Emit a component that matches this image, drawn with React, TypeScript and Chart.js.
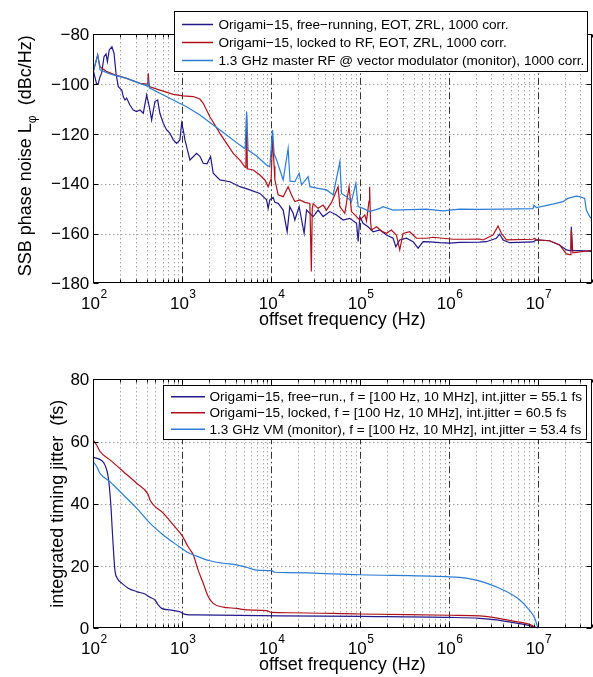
import React, { useEffect, useRef } from 'react';
import { Chart, registerables } from 'chart.js';

Chart.register(...registerables);

const FONT = "'Liberation Sans', Helvetica, Arial, sans-serif";

// ---------- Top chart: SSB phase noise ----------
const noiseFreeRunF = [100, 104, 109, 114, 119, 124, 132, 139, 144, 151, 162, 171, 180, 191, 209, 217, 227, 237, 258, 281, 307, 335, 365, 398, 426, 453, 493, 529, 561, 612, 668, 728, 793, 865, 942, 985, 1026, 1073, 1221, 1450, 1581, 1722, 1900, 2084, 2230, 2652, 3436, 4450, 5767, 7468, 8875, 9252, 9664, 10520, 11010, 11990, 13650, 15130, 16200, 17670, 18460, 20640, 23480, 24990, 29670, 33750, 38400, 45700, 54300, 64500, 76500, 91200, 95100, 99300, 108000, 123000, 140000, 167000, 198000, 235000, 252000, 279000, 332000, 394000, 449000, 511000, 607000, 787000, 1.02e6, 1.32e6, 2.21e6, 2.63e6, 3.41e6, 3.71e6, 4.05e6, 4.81e6, 8.79e6, 9.6e6, 1.35e7, 1.75e7, 2.09e7, 2.27e7, 2.35e7, 2.37e7, 2.44e7, 2.94e7, 4e7];
const noiseFreeRunL = [-94.5, -97, -100, -99.7, -97, -95.7, -89, -87.9, -91, -86.3, -85, -87.6, -95.7, -101, -102.4, -105, -106.4, -105.6, -108.4, -110.4, -111, -110.4, -111.7, -104.4, -109, -114.4, -107, -106.4, -111.7, -115.7, -118.4, -119.8, -122.4, -123.8, -122.4, -115.7, -118.4, -122.4, -130.5, -127.8, -129, -131.8, -132, -129.1, -135.8, -138.5, -139.2, -141.2, -142.5, -143.9, -146.5, -149.9, -146.5, -145.5, -147.5, -147.9, -150.6, -159.3, -149.2, -151.9, -154.6, -149.2, -159.9, -150.6, -153.2, -150.6, -153.2, -151.2, -152.6, -154.6, -153.9, -155.9, -163.2, -153.2, -155.9, -157.3, -159.3, -158.6, -160.6, -161.9, -165.3, -162.6, -161.9, -163.3, -165.9, -163.3, -163.4, -163.7, -163.9, -163.6, -163.5, -163.3, -161.9, -160.2, -162.6, -163.7, -163.4, -162.6, -162.9, -164.6, -166.6, -166.9, -166.9, -157.3, -166.9, -166.9, -167.2];

const noiseLockedF = [100, 112, 119, 142, 175, 237, 335, 410, 415, 426, 561, 793, 1026, 1330, 1581, 1722, 2047, 2652, 3743, 4450, 5058, 5200, 5293, 5400, 6283, 7468, 8498, 9252, 10000, 10370, 10800, 11010, 11990, 13650, 15520, 16930, 18460, 21000, 23920, 27240, 28300, 29000, 29670, 33750, 38400, 41900, 47700, 56600, 59200, 67300, 75200, 80000, 91200, 99300, 113000, 118000, 126000, 128000, 131000, 134000, 153000, 174000, 198000, 225000, 256000, 279000, 304000, 361000, 430000, 557000, 661000, 857000, 1.11e6, 1.57e6, 2.21e6, 2.41e6, 3.12e6, 3.56e6, 3.88e6, 4.42e6, 8.79e6, 9.18e6, 9.6e6, 1.35e7, 1.75e7, 2.09e7, 2.27e7, 2.35e7, 2.37e7, 2.47e7, 4e7];
const noiseLockedL = [-95, -88.3, -93, -95, -96.3, -97.7, -99.7, -100, -95.7, -101, -102.4, -104.1, -104.7, -105, -106, -107.7, -113.1, -119.8, -127.8, -130.5, -133.2, -133.5, -112.4, -134, -134.5, -136.5, -138.5, -141.2, -138, -121, -133, -138.5, -144.5, -145.2, -141.2, -144.5, -147.2, -146.5, -147.5, -147.9, -175.3, -150, -148, -149.9, -148.6, -150.6, -147.5, -141.2, -149.2, -151.9, -141.2, -151.2, -153.2, -154.6, -152.5, -155, -147, -141.2, -155, -158.6, -157.3, -159, -159.9, -158.6, -160.6, -166.6, -160, -159.3, -161.9, -161.9, -161.5, -161.9, -162.3, -162.3, -162.2, -162.6, -160.6, -157, -159.9, -162.6, -162.3, -161.9, -162.6, -162.9, -164.6, -168.2, -168.5, -168.5, -158.6, -167.8, -166.8];

const noiseMasterF = [100, 112, 119, 154, 237, 335, 410, 415, 426, 561, 793, 1119, 1581, 2230, 3155, 4450, 5100, 5293, 5500, 6855, 8875, 9664, 10370, 10800, 11510, 13650, 15520, 16300, 18460, 20640, 21940, 26070, 27240, 33750, 41900, 49800, 59200, 61800, 70300, 80000, 89500, 95100, 108000, 128000, 167000, 181000, 235000, 557000, 857000, 1.32e6, 2.21e6, 4.05e6, 8.79e6, 9.02e6, 9.6e6, 1.47e7, 1.91e7, 2.17e7, 2.7e7, 2.94e7, 3.35e7, 3.5e7, 3.81e7, 4e7];
const noiseMasterL = [-95, -88.3, -94.3, -95.9, -97.7, -99.7, -100.8, -99, -101.5, -103.7, -106.4, -109.1, -112.4, -116.4, -120.4, -124.5, -126, -111, -126.5, -128.9, -132.5, -133.2, -118.4, -128, -130.5, -138.5, -125.8, -139, -139.2, -135.8, -140.5, -137.2, -141.2, -141.9, -142.5, -144.5, -131.2, -143.9, -145.2, -147.2, -139.9, -149.2, -149.9, -151.2, -149.9, -149.2, -150.6, -150.2, -150.9, -150.2, -150.3, -150.2, -150, -148.6, -149.6, -148.2, -147.2, -145.9, -145, -145.2, -145.9, -150.6, -153.2, -153.9];

const noiseLabels = [
  'Origami\u221215, free\u2212running, EOT, ZRL, 1000 corr.',
  'Origami\u221215, locked to RF, EOT, ZRL, 1000 corr.',
  '1.3 GHz master RF @ vector modulator (monitor), 1000 corr.',
];
const noiseTicks = [-80, -100, -120, -140, -160, -180];

// ---------- Bottom chart: integrated timing jitter ----------
const jitFreeRunF = [100, 124, 135, 147, 157, 165, 175, 186, 209, 247, 307, 381, 433, 493, 537, 587, 728, 942, 1073, 1450, 12530, 99300, 1.02e6, 2.21e6, 3.41e6, 5.26e6, 7.4e6, 1e7];
const jitFreeRunV = [54.9, 53.9, 52.5, 48.7, 40.2, 29.5, 18.7, 16.1, 14.5, 12.9, 11.8, 11.0, 10.0, 9.1, 7.5, 6.4, 5.9, 5.3, 4.5, 4.3, 4.0, 3.8, 3.5, 3.2, 2.7, 1.8, 1.1, 0];

const jitLockedF = [100, 109, 119, 154, 217, 307, 415, 433, 612, 793, 985, 1165, 1330, 1510, 1722, 1960, 2230, 2890, 4090, 5290, 8875, 10100, 16200, 99300, 1.02e6, 2.21e6, 3.12e6, 5.26e6, 7.7e6, 1e7];
const jitLockedV = [60.5, 58.9, 56.8, 54.1, 50.4, 46.6, 42.9, 41.3, 37.0, 33.2, 30.0, 26.2, 23.6, 18.7, 14.5, 10.2, 8.0, 6.8, 6.4, 5.9, 5.7, 5.1, 5.0, 4.6, 4.2, 4.0, 3.5, 2.3, 1.4, 0];

const jitMasterF = [100, 109, 119, 154, 217, 307, 433, 612, 865, 1119, 1450, 2047, 2890, 4090, 5290, 6855, 10100, 11010, 16200, 99300, 9.3e5, 1.57e6, 2.63e6, 4.42e6, 6.25e6, 7.7e6, 9.2e6, 1e7];
const jitMasterV = [53.4, 52.0, 49.8, 47.1, 42.9, 38.6, 33.8, 30.0, 26.8, 24.6, 23.2, 21.7, 20.9, 20.4, 19.6, 18.7, 18.5, 18.0, 17.9, 17.2, 16.6, 16.1, 14.5, 11.8, 9.1, 6.4, 3.2, 0];

const jitLabels = [
  'Origami\u221215, free\u2212run., f = [100 Hz, 10 MHz], int.jitter = 55.1 fs',
  'Origami\u221215, locked, f = [100 Hz, 10 MHz], int.jitter = 60.5 fs',
  '1.3 GHz VM (monitor), f = [100 Hz, 10 MHz], int.jitter = 53.4 fs',
];
const jitTicks = [0, 20, 40, 60, 80];

const decadeExps = [2, 3, 4, 5, 6, 7];
const X_MIN = 100;
const X_MAX = 4e7;

const COLORS = ['#22198a', '#b0101a', '#2a7ed6'];

type Seg = { t: string; size: number; dy?: number };

type Decor = {
  yTicks: number[];
  yTitle: Seg[];
  yTitleX: number;
  yTitleShift: number;
  labels: string[];
  legend: { left: number; top: number; right: number; bottom: number; rows: number[]; lineX0: number; lineX1: number; textX: number; font: number };
};

const toPts = (fs: number[], vs: number[]) => fs.map((f, i) => ({ x: f, y: vs[i] }));

function decorPlugin(d: Decor) {
  return {
    id: 'matlabDecor',
    beforeDatasetsDraw(chart: any) {
      const { ctx, chartArea: a, scales } = chart;
      const x = scales.x;
      const y = scales.y;
      ctx.save();
      ctx.beginPath();
      ctx.rect(a.left, a.top, a.right - a.left, a.bottom - a.top);
      ctx.clip();
      ctx.lineWidth = 1;
      // horizontal dotted grid
      ctx.strokeStyle = 'rgba(0,0,0,0.55)';
      ctx.setLineDash([1, 3]);
      for (const v of d.yTicks) {
        const py = Math.round(y.getPixelForValue(v)) + 0.5;
        if (py <= a.top + 1 || py >= a.bottom - 1) continue;
        ctx.beginPath();
        ctx.moveTo(a.left, py);
        ctx.lineTo(a.right, py);
        ctx.stroke();
      }
      // vertical grid
      for (const e of decadeExps) {
        for (let m = 1; m <= 9; m++) {
          const f = m * Math.pow(10, e);
          if (f <= X_MIN * 1.001 || f >= X_MAX) continue;
          const px = Math.round(x.getPixelForValue(f)) + 0.5;
          if (m === 1) {
            ctx.strokeStyle = 'rgba(0,0,0,0.8)';
            ctx.setLineDash([7, 3, 1.5, 3]);
          } else {
            ctx.strokeStyle = 'rgba(0,0,0,0.5)';
            ctx.setLineDash([1, 3]);
          }
          ctx.beginPath();
          ctx.moveTo(px, a.top);
          ctx.lineTo(px, a.bottom);
          ctx.stroke();
        }
      }
      ctx.restore();
    },
    afterDatasetsDraw(chart: any) {
      const { ctx, chartArea: a, scales } = chart;
      const x = scales.x;
      const y = scales.y;
      ctx.save();
      ctx.setLineDash([]);
      ctx.strokeStyle = '#000';
      ctx.fillStyle = '#000';
      ctx.lineWidth = 1;
      const L = Math.round(a.left) + 0.5;
      const R = Math.round(a.right) - 0.5;
      const T = Math.round(a.top) + 0.5;
      const B = Math.round(a.bottom) - 0.5;
      ctx.strokeRect(L, T, R - L, B - T);
      // x ticks (inward, top and bottom)
      ctx.beginPath();
      for (const e of decadeExps) {
        for (let m = 1; m <= 9; m++) {
          const f = m * Math.pow(10, e);
          if (f < X_MIN || f > X_MAX) continue;
          const px = Math.round(x.getPixelForValue(f)) + 0.5;
          const len = m === 1 ? 5 : 3;
          ctx.moveTo(px, B);
          ctx.lineTo(px, B - len);
          ctx.moveTo(px, T);
          ctx.lineTo(px, T + len);
        }
      }
      // y ticks (inward, left and right)
      for (const v of d.yTicks) {
        const py = Math.round(y.getPixelForValue(v)) + 0.5;
        ctx.moveTo(L, py);
        ctx.lineTo(L + 5, py);
        ctx.moveTo(R, py);
        ctx.lineTo(R - 5, py);
      }
      ctx.stroke();

      // y tick labels
      ctx.font = `17px ${FONT}`;
      ctx.textAlign = 'right';
      ctx.textBaseline = 'middle';
      for (const v of d.yTicks) {
        const py = y.getPixelForValue(v);
        const s = v < 0 ? '\u2212' + String(-v) : String(v);
        ctx.fillText(s, a.left - 4, py + 1);
      }
      // x tick labels 10^n
      ctx.textAlign = 'left';
      ctx.textBaseline = 'alphabetic';
      for (const e of decadeExps) {
        const f = Math.pow(10, e);
        const px = x.getPixelForValue(f);
        ctx.font = `17px ${FONT}`;
        const w10 = ctx.measureText('10').width;
        ctx.font = `12px ${FONT}`;
        const we = ctx.measureText(String(e)).width;
        const start = px - (w10 + we) / 2 + 0.5;
        ctx.font = `17px ${FONT}`;
        ctx.fillText('10', start, a.bottom + 26);
        ctx.font = `12px ${FONT}`;
        ctx.fillText(String(e), start + w10 + 0.5, a.bottom + 15);
      }
      // x title
      ctx.font = `18px ${FONT}`;
      ctx.textAlign = 'center';
      ctx.fillText('offset frequency (Hz)', (a.left + a.right) / 2, a.bottom + 42);

      // y title (rotated, with subscript)
      let total = 0;
      for (const s of d.yTitle) {
        ctx.font = `${s.size}px ${FONT}`;
        total += ctx.measureText(s.t).width;
      }
      ctx.save();
      ctx.translate(d.yTitleX, (a.top + a.bottom) / 2 + d.yTitleShift);
      ctx.rotate(-Math.PI / 2);
      ctx.textAlign = 'left';
      let cx = -total / 2;
      for (const s of d.yTitle) {
        ctx.font = `${s.size}px ${FONT}`;
        ctx.fillText(s.t, cx, s.dy || 0);
        cx += ctx.measureText(s.t).width;
      }
      ctx.restore();

      // legend box
      const g = d.legend;
      ctx.fillStyle = '#fff';
      ctx.fillRect(g.left, g.top, g.right - g.left, g.bottom - g.top);
      ctx.strokeStyle = '#000';
      ctx.lineWidth = 1;
      ctx.strokeRect(g.left, g.top, g.right - g.left, g.bottom - g.top);
      ctx.font = `${g.font}px ${FONT}`;
      ctx.textAlign = 'left';
      ctx.textBaseline = 'middle';
      d.labels.forEach((lab, i) => {
        const ry = g.rows[i];
        ctx.strokeStyle = COLORS[i];
        ctx.lineWidth = 1.5;
        ctx.beginPath();
        ctx.moveTo(g.lineX0, ry);
        ctx.lineTo(g.lineX1, ry);
        ctx.stroke();
        ctx.fillStyle = '#000';
        ctx.fillText(lab, g.textX, ry + 0.5);
      });
      ctx.restore();
    },
  };
}

function makeChart(
  canvas: HTMLCanvasElement,
  series: { pts: { x: number; y: number }[]; label: string }[],
  yMin: number,
  yMax: number,
  padding: { left: number; right: number; top: number; bottom: number },
  decor: Decor,
  smooth: boolean
) {
  return new Chart(canvas, {
    type: 'line',
    data: {
      datasets: series.map((s, i) => ({
        label: s.label,
        data: s.pts,
        borderColor: COLORS[i],
        backgroundColor: COLORS[i],
        borderWidth: 1.2,
        pointRadius: 0,
        fill: false,
        tension: 0,
        cubicInterpolationMode: smooth ? 'monotone' : 'default',
        order: 3 - i,
      })),
    },
    options: {
      animation: false,
      responsive: false,
      maintainAspectRatio: false,
      parsing: false as any,
      normalized: true,
      layout: { padding },
      plugins: { legend: { display: false }, tooltip: { enabled: false } },
      events: [],
      scales: {
        x: { type: 'logarithmic', min: X_MIN, max: X_MAX, display: false },
        y: { type: 'linear', min: yMin, max: yMax, display: false },
      },
    } as any,
    plugins: [decorPlugin(decor)],
  });
}

export default function App() {
  const topRef = useRef<HTMLCanvasElement>(null);
  const botRef = useRef<HTMLCanvasElement>(null);

  useEffect(() => {
    const top = makeChart(
      topRef.current!,
      [
        { pts: toPts(noiseFreeRunF, noiseFreeRunL), label: noiseLabels[0] },
        { pts: toPts(noiseLockedF, noiseLockedL), label: noiseLabels[1] },
        { pts: toPts(noiseMasterF, noiseMasterL), label: noiseLabels[2] },
      ],
      -180,
      -80,
      { left: 93.3, right: 1.5, top: 34.3, bottom: 51.7 },
      {
        yTicks: noiseTicks,
        yTitle: [
          { t: 'SSB phase noise L', size: 18 },
          { t: '\u03c6', size: 12, dy: 5 },
          { t: '  (dBc/Hz)', size: 18 },
        ],
        yTitleX: 31,
        yTitleShift: -3,
        labels: noiseLabels,
        legend: { left: 174.5, top: 11.5, right: 587.5, bottom: 71.5, rows: [24.5, 42.5, 60.5], lineX0: 182, lineX1: 213, textX: 218.5, font: 13.6 },
      },
      false
    );
    const bot = makeChart(
      botRef.current!,
      [
        { pts: toPts(jitFreeRunF, jitFreeRunV), label: jitLabels[0] },
        { pts: toPts(jitLockedF, jitLockedV), label: jitLabels[1] },
        { pts: toPts(jitMasterF, jitMasterV), label: jitLabels[2] },
      ],
      0,
      80,
      { left: 93.3, right: 1.5, top: 39.3, bottom: 48.7 },
      {
        yTicks: jitTicks,
        yTitle: [{ t: 'integrated timing jitter  (fs)', size: 18 }],
        yTitleX: 63,
        yTitleShift: 0,
        labels: jitLabels,
        legend: { left: 163.5, top: 45.5, right: 586.5, bottom: 99.5, rows: [56.8, 72.8, 89.3], lineX0: 171, lineX1: 205, textX: 209.5, font: 13.6 },
      },
      true
    );
    return () => {
      top.destroy();
      bot.destroy();
    };
  }, []);

  return (
    <div style={{ position: 'absolute', left: 0, top: 0, width: 593, height: 677, background: '#fff' }}>
      <canvas ref={topRef} width={593} height={335} style={{ position: 'absolute', left: 0, top: 0, display: 'block' }} />
      <canvas ref={botRef} width={593} height={337} style={{ position: 'absolute', left: 0, top: 340, display: 'block' }} />
    </div>
  );
}
